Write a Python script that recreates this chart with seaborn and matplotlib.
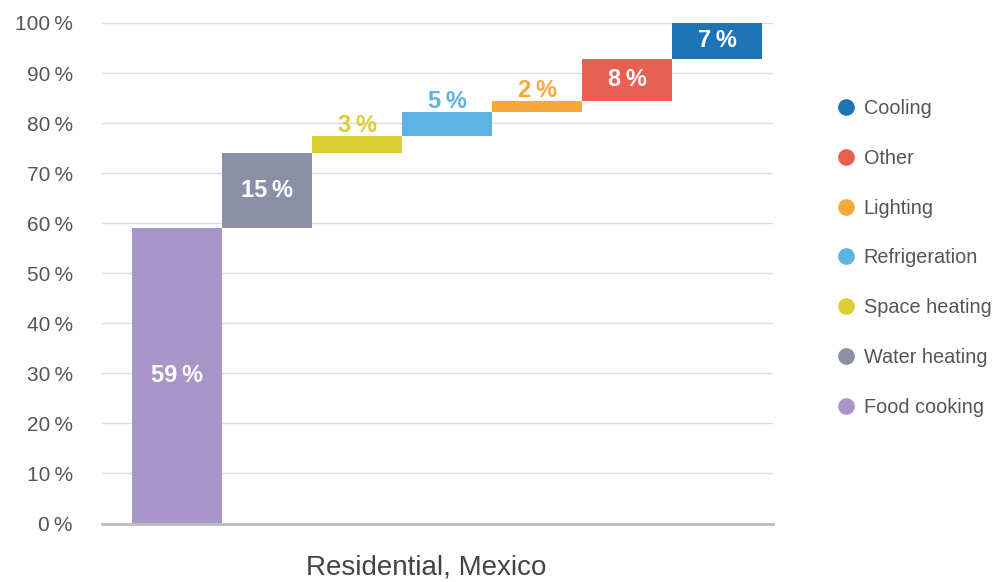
import numpy as np
import matplotlib
matplotlib.use("Agg")
import matplotlib.pyplot as plt
from matplotlib.lines import Line2D
import seaborn as sns

# Residential energy end-use shares, Mexico (percent of total)
categories = ["Food cooking", "Water heating", "Space heating", "Refrigeration",
              "Lighting", "Other", "Cooling"]
shares = [59.1, 15.0, 3.4, 4.8, 2.2, 8.4, 7.1]
colors = ["#a996c8", "#8b90a6", "#d9cf33", "#5eb3e4", "#f4a93d", "#e96052", "#1f74b6"]
label_inside = [True, True, False, False, False, True, True]
yticks = [0, 10, 20, 30, 40, 50, 60, 70, 80, 90, 100]

sns.set_theme(style="white")
plt.rcParams["font.family"] = ["Liberation Sans", "DejaVu Sans"]

fig = plt.figure(figsize=(9.95, 5.82), dpi=100)
ax = fig.add_axes([0.1025, 0.1005, 0.6745, 0.8600])

bottoms = np.concatenate([[0.0], np.cumsum(shares)[:-1]])

for i, (cat, val, base, col) in enumerate(zip(categories, shares, bottoms, colors)):
    sns.barplot(x=[cat], y=[val], order=categories, color=col, width=1.0,
                bottom=base, saturation=1, linewidth=0, ax=ax)

# value labels: white inside tall bars, bar-coloured above thin ones
for container, val, col, inside in zip(ax.containers, shares, colors, label_inside):
    txt = f"{val:.0f}\u2009%"
    if inside:
        ax.bar_label(container, labels=[txt], label_type="center", color="white",
                     fontsize=17, fontweight="bold")
    else:
        ax.bar_label(container, labels=[txt], label_type="edge", padding=-1, color=col,
                     fontsize=17, fontweight="bold")

ax.set_xlim(-0.833, 6.622)
ax.set_ylim(0, 100)
ax.set_yticks(yticks)
ax.set_yticklabels([f"{t}\u2009%" for t in yticks], color="#555555", fontsize=15)
ax.tick_params(axis="y", length=0, pad=21)
ax.set_xticks([])
ax.set_xlabel("")
ax.set_ylabel("")
ax.yaxis.grid(True, color="#dcdcdc", linewidth=1)
ax.set_axisbelow(True)
for side in ["left", "right", "top"]:
    ax.spines[side].set_visible(False)
ax.spines["bottom"].set_color("#bdbdbd")
ax.spines["bottom"].set_linewidth(2)

fig.text(426 / 995, 1 - 567 / 582, "Residential, Mexico", ha="center", va="center",
         fontsize=20, color="#444444")

handles = [Line2D([], [], linestyle="none", marker="o", markersize=12,
                  markerfacecolor=c, markeredgewidth=0) for c in colors[::-1]]
fig.legend(handles, categories[::-1], loc="upper left",
           bbox_to_anchor=(834 / 995, 1 - 99 / 582), frameon=False, fontsize=14.3,
           labelspacing=1.55, handletextpad=0.3, handlelength=1.2, labelcolor="#555555",
           borderaxespad=0, borderpad=0)

fig.savefig("out.png", dpi=100, facecolor="white")
